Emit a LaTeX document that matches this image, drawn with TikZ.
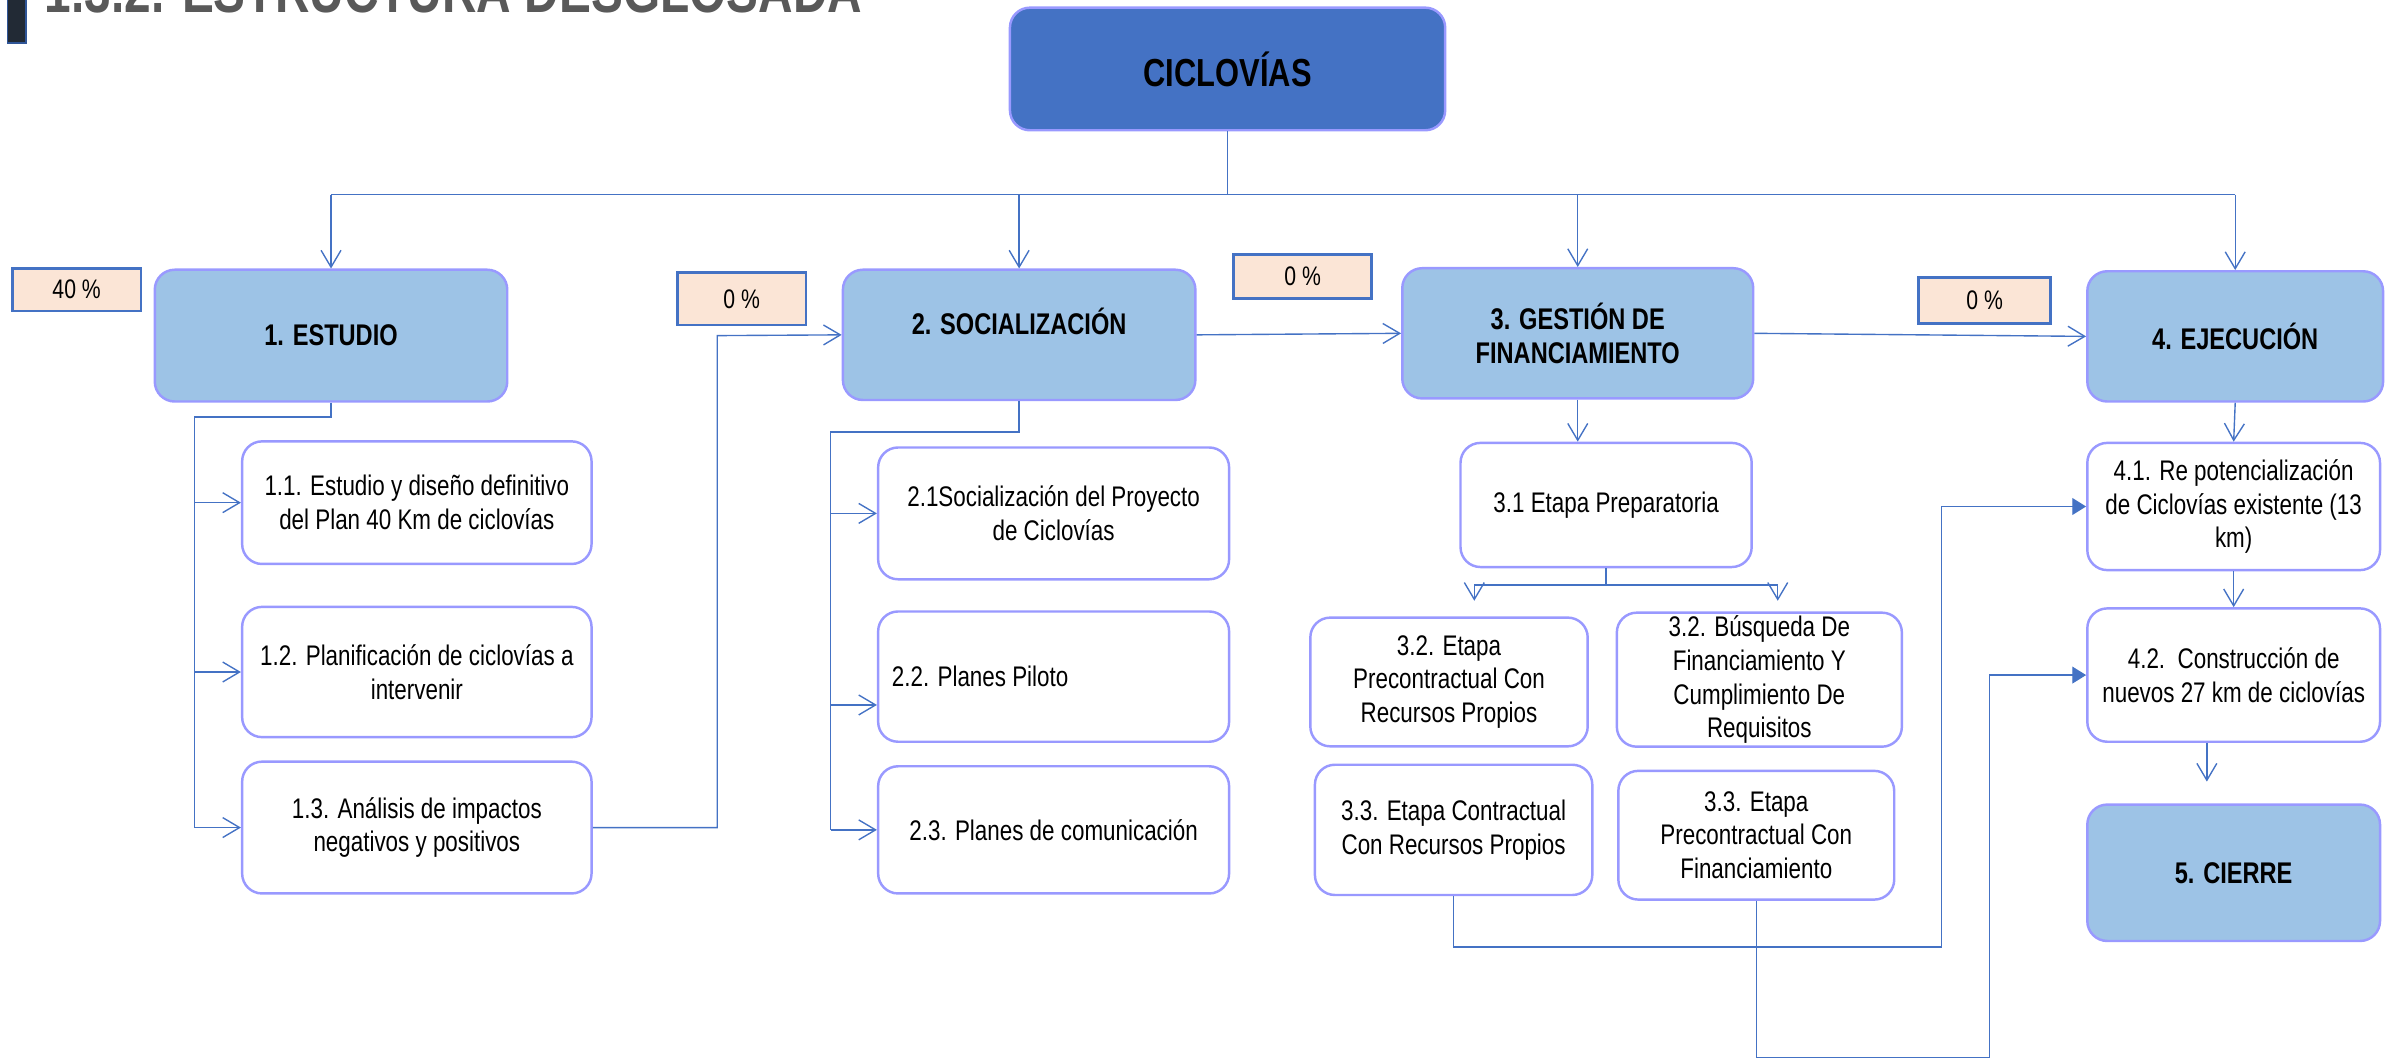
\documentclass[tikz,border=0pt]{standalone}
\usepackage{fontspec}
\setmainfont{Liberation Sans}[FakeStretch=0.79]
\usepackage{xcolor}
\usetikzlibrary{arrows.meta}
\definecolor{rootblue}{HTML}{4472C4}
\definecolor{phasefill}{HTML}{9DC3E6}
\definecolor{boxline}{HTML}{9999FF}
\definecolor{peach}{HTML}{FBE5D6}
\definecolor{navyfill}{HTML}{222A35}
\definecolor{navyline}{HTML}{2F5597}
\definecolor{titlegray}{HTML}{595959}

\begin{document}
\begin{tikzpicture}[x=1pt,y=-1pt,
  phase/.style={draw=boxline, line width=1.6pt, fill=phasefill, rounded corners=13pt,
    align=center, inner sep=2pt, font=\fontsize{19.5}{22}\selectfont\bfseries},
  task/.style={draw=boxline, line width=1.6pt, fill=white, rounded corners=13pt,
    align=center, inner sep=2pt, font=\fontsize{18.5}{22}\selectfont},
  pct/.style={draw=rootblue, line width=1.8pt, fill=peach, inner sep=0pt,
    font=\fontsize{17.5}{20}\selectfont},
  link/.style={draw=rootblue, line width=0.9pt},
  arr/.style={link, -{Straight Barb[length=11pt,width=13pt]}},
  tri/.style={link, -{Triangle[length=9pt,width=11pt]}}]

  \useasboundingbox (0,0) rectangle (1568,692);

  % Heading (cut at the top of the page)
  \draw[draw=navyline, fill=navyfill, line width=1pt] (5,-5) rectangle (17,28);
  \node[anchor=base west, inner sep=0pt, text=titlegray,
    font=\fontsize{39.5}{44}\selectfont\bfseries] (title) at (29,8) {1.3.2. ESTRUCTURA DESGLOSADA};

  % Root
  \node[phase, fill=rootblue, minimum width=284pt, minimum height=80pt,
    font=\fontsize{25.5}{28}\selectfont\bfseries] (root) at (801,45) {CICLOVÍAS};

  % Phases
  \node[phase, minimum width=230pt, minimum height=86pt] (p1) at (216,219) {1. ESTUDIO};
  \node[phase, minimum width=230pt, minimum height=85pt, text depth=18pt] (p2) at (665,218.5) {2. SOCIALIZACIÓN};
  \node[phase, minimum width=229pt, minimum height=85pt] (p3) at (1029.5,217.5) {3. GESTIÓN DE\\FINANCIAMIENTO};
  \node[phase, minimum width=193pt, minimum height=85pt] (p4) at (1458.5,219.5) {4. EJECUCIÓN};
  \node[phase, minimum width=191pt, minimum height=89pt] (p5) at (1457.5,569.5) {5. CIERRE};

  % Progress
  \node[pct, minimum width=84pt, minimum height=28pt] (pc1) at (50,189) {40 \%};
  \node[pct, minimum width=84pt, minimum height=34pt] (pc2) at (484,195) {0 \%};
  \node[pct, minimum width=90pt, minimum height=29pt] (pc3) at (850,180.5) {0 \%};
  \node[pct, minimum width=86pt, minimum height=30pt] (pc4) at (1295,196) {0 \%};

  % Tasks
  \node[task, minimum width=228pt, minimum height=80pt] (t11) at (272,328) {1.1. Estudio y diseño definitivo\\del Plan 40 Km de ciclovías};
  \node[task, minimum width=228pt, minimum height=85pt] (t12) at (272,438.5) {1.2. Planificación de ciclovías a\\intervenir};
  \node[task, minimum width=228pt, minimum height=86pt] (t13) at (272,540) {1.3. Análisis de impactos\\negativos y positivos};

  \node[task, minimum width=229pt, minimum height=86pt] (t21) at (687.5,335) {2.1Socialización del Proyecto\\de Ciclovías};
  \node[task, align=flush left, text width=211pt, minimum width=229pt, minimum height=85pt] (t22) at (687.5,441.5) {2.2. Planes Piloto};
  \node[task, minimum width=229pt, minimum height=83pt] (t23) at (687.5,541.5) {2.3. Planes de comunicación};

  \node[task, minimum width=190pt, minimum height=81pt] (t31) at (1048,329.5) {3.1 Etapa Preparatoria};
  \node[task, minimum width=181pt, minimum height=84pt] (t32a) at (945.5,445) {3.2. Etapa\\Precontractual Con\\Recursos Propios};
  \node[task, minimum width=186pt, minimum height=85pt] (t32b) at (1148,443.5) {3.2. Búsqueda De\\Financiamiento Y\\Cumplimiento De\\Requisitos};
  \node[task, minimum width=181pt, minimum height=85pt] (t33a) at (948.5,541.5) {3.3. Etapa Contractual\\Con Recursos Propios};
  \node[task, minimum width=180pt, minimum height=84pt] (t33b) at (1146,545) {3.3. Etapa\\Precontractual Con\\Financiamiento};

  \node[task, minimum width=191pt, minimum height=83pt] (t41) at (1457.5,330.5) {4.1. Re potencialización\\de Ciclovías existente (13\\km)};
  \node[task, minimum width=191pt, minimum height=87pt] (t42) at (1457.5,440.5) {4.2.\ \ Construcción de\\nuevos 27 km de ciclovías};

  % Bus from the root
  \coordinate (busL) at (216,127);
  \coordinate (busR) at (1458.5,127);
  \draw[link] (root.south) -- (root.south |- busL);
  \draw[link] (busL) -- (busR);
  \foreach \p in {p1,p2,p3,p4}
    \draw[arr] (\p.north |- busL) -- (\p.north);

  % Phase to phase
  \coordinate (k1) at (468,219);
  \draw[arr] (t13.east) -| (k1) -- (p2.west);
  \draw[arr] (p2.east) -- (p3.west);
  \draw[arr] (p3.east) -- (p4.west);

  % Study branch
  \coordinate (e1) at (127,272);
  \draw[link] (p1.south) |- (e1) -- (e1 |- t13.west);
  \foreach \t in {t11,t12,t13}
    \draw[arr] (e1 |- \t.west) -- (\t.west);

  % Socialization branch
  \coordinate (s1) at (542,282);
  \coordinate (s2) at (542,460);
  \draw[link] (p2.south) |- (s1) -- (s1 |- t23.west);
  \draw[arr] (s1 |- t21.west) -- (t21.west);
  \draw[arr] (s2) -- (s2 -| t22.west);
  \draw[arr] (s1 |- t23.west) -- (t23.west);

  % Financing branch
  \coordinate (f1) at (962,392);
  \coordinate (f2) at (1160,392);
  \draw[arr] (p3.south) -- (p3.south |- t31.north);
  \draw[arr] (t31.south) -- ++(0,11) -| (f1);
  \draw[arr] (t31.south) -- ++(0,11) -| (f2);
  \coordinate (g1) at (1267,618);
  \coordinate (g2) at (1298,690);
  \draw[tri] (t33a.south) |- (g1) |- (t41.west);
  \draw[tri] (t33b.south) |- (g2) |- (t42.west);

  % Execution branch
  \draw[arr] (p4.south) -- (t41.north);
  \draw[arr] (t41.south) -- (t42.north);
  \coordinate (h1) at (1440,510);
  \draw[arr] (h1 |- t42.south) -- (h1);
\end{tikzpicture}
\end{document}
